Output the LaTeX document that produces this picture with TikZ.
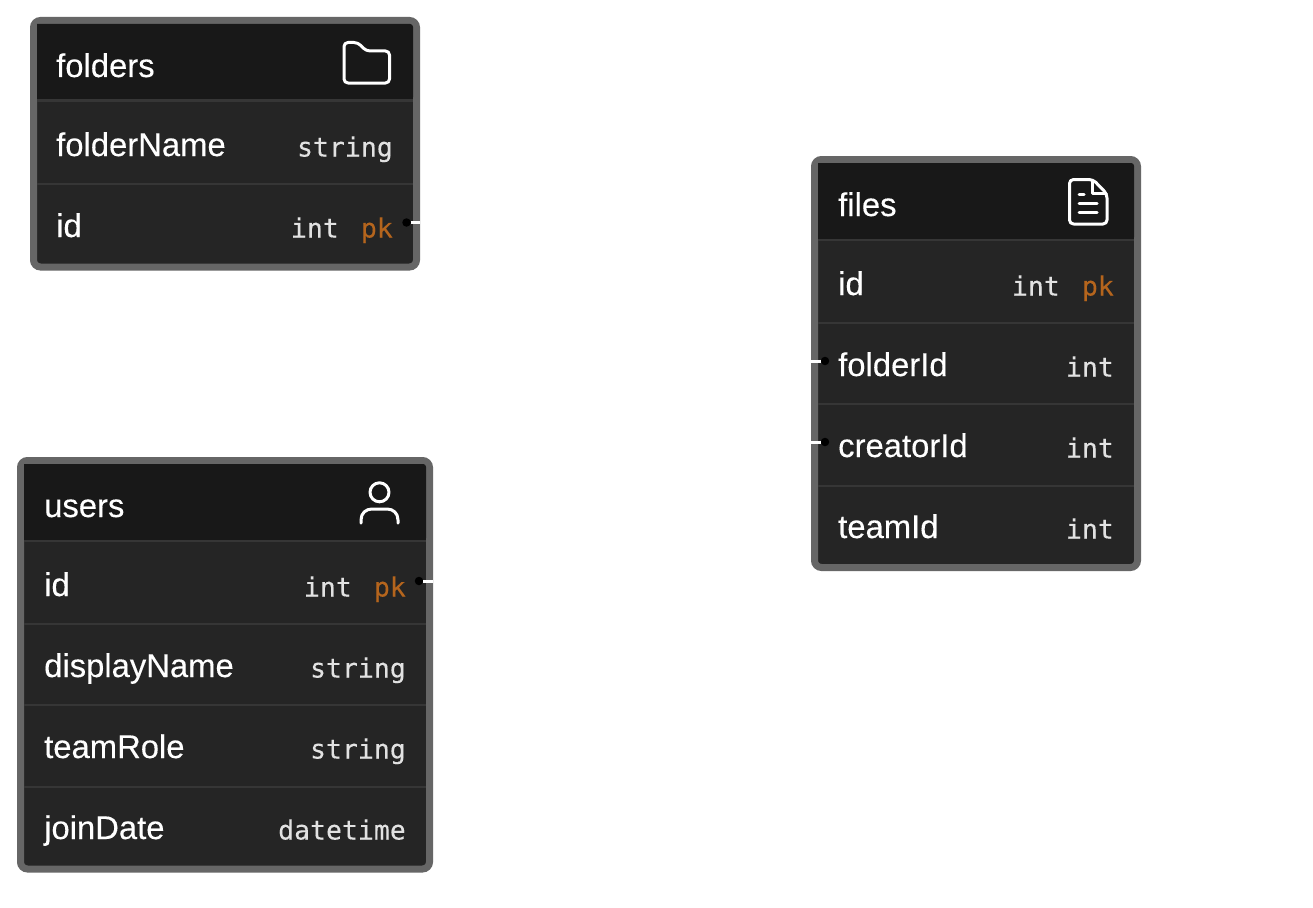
\documentclass[tikz,border=0pt]{standalone}
\usepackage{fontspec}
\setmainfont[FakeBold=0.25]{Liberation Sans}
\newfontfamily\monof[FakeBold=0.12]{DejaVu Sans Mono}
\definecolor{rowbg}{HTML}{252525}
\definecolor{headbg}{HTML}{181818}
\definecolor{rim}{HTML}{666666}
\definecolor{rule}{HTML}{363636}
\definecolor{typec}{HTML}{E2E2E2}
\definecolor{pkc}{HTML}{B5651D}
\tikzset{
  tablebox/.style={draw=rim,line width=7pt,fill=rowbg,rounded corners=7pt},
  headfill/.style={fill=headbg,rounded corners=3pt},
  rowrule/.style={draw=rule,line width=2.4pt},
  fieldname/.style={anchor=base west,inner sep=0pt,text=white,font=\fontsize{32.8}{36}\selectfont},
  fieldtype/.style={anchor=base east,inner sep=0pt,text=typec,font=\monof\fontsize{26.5}{30}\selectfont},
  pkmark/.style={anchor=base east,inner sep=0pt,text=pkc,font=\monof\fontsize{26.5}{30}\selectfont},
  icon/.style={draw=white,line width=3pt,line cap=round,line join=round},
  portdot/.style={circle,fill=black,inner sep=0pt,minimum size=8.5pt},
  stub/.style={draw=white,line width=3pt},
}
\begin{document}
\begin{tikzpicture}[x=1pt,y=-1pt]
\useasboundingbox (0,0) rectangle (1313,907);
\fill[white] (0,0) rectangle (1313,907);

% folders
\draw[tablebox] (33.5,20.5) rectangle (416.5,267);
\path[headfill] (37,24) -- (413,24) -- (413,100) [sharp corners] -- (37,100) -- cycle;
\fill[headbg] (37,40) rectangle (413,100);
\draw[rowrule] (37,100.5) -- (413,100.5);
\draw[rowrule] (37,184) -- (413,184);
\node[fieldname] (folderstitle) at (56,77) {folders};
\node[fieldname] (foldersname) at (56,156) {folderName};
\node[fieldname] (foldersid) at (56,237) {id};
\node[fieldtype] (foldersnamet) at (393,156.5) {string};
\node[pkmark] (folderspk) at (393,237.5) {pk};
\node[fieldtype] (foldersidt) at (339,237.5) {int};
\draw[icon,rounded corners=4pt] (344,42.5) -- (358,42.5) -- (366,51) -- (389.5,51) -- (389.5,83) -- (344,83) -- cycle;
\node[portdot] (foldersport) at (406.5,222.5) {};
\coordinate (foldersedge) at (420,222.5);
\draw[stub] (foldersport.east) -- (foldersedge);

% files
\draw[tablebox] (814.5,159.5) rectangle (1137.5,567.5);
\path[headfill] (818,163) -- (1134,163) -- (1134,240) [sharp corners] -- (818,240) -- cycle;
\fill[headbg] (818,180) rectangle (1134,240);
\draw[rowrule] (818,240) -- (1134,240);
\draw[rowrule] (818,323) -- (1134,323);
\draw[rowrule] (818,404) -- (1134,404);
\draw[rowrule] (818,486) -- (1134,486);
\node[fieldname] (filestitle) at (838,216) {files};
\node[fieldname] (filesid) at (838,295) {id};
\node[fieldname] (filesfolder) at (838,376) {folderId};
\node[fieldname] (filescreator) at (838,457) {creatorId};
\node[fieldname] (filesteam) at (838,538) {teamId};
\node[pkmark] (filespk) at (1114,295.5) {pk};
\node[fieldtype] (filesidt) at (1060,295.5) {int};
\node[fieldtype] (filesfoldert) at (1114,376.5) {int};
\node[fieldtype] (filescreatort) at (1114,457.5) {int};
\node[fieldtype] (filesteamt) at (1114,538.5) {int};
\draw[icon,rounded corners=4pt] (1069.5,179.5) -- (1093,179.5) -- (1107,194) -- (1107,224) -- (1069.5,224) -- cycle;
\draw[icon] (1092,180.5) -- (1092,193.5) -- (1106,193.5);
\draw[icon] (1079,194) -- (1084,194);
\draw[icon] (1079,203) -- (1097,203);
\draw[icon] (1079,212) -- (1097,212);
\node[portdot] (filesfolderport) at (825,361) {};
\coordinate (filesfolderedge) at (811,361);
\draw[stub] (filesfolderedge) -- (filesfolderport.west);
\node[portdot] (filescreatorport) at (825,442) {};
\coordinate (filescreatoredge) at (811,442);
\draw[stub] (filescreatoredge) -- (filescreatorport.west);

% users
\draw[tablebox] (20.5,460.5) rectangle (429.5,869);
\path[headfill] (24,464) -- (426,464) -- (426,541) [sharp corners] -- (24,541) -- cycle;
\fill[headbg] (24,480) rectangle (426,541);
\draw[rowrule] (24,541) -- (426,541);
\draw[rowrule] (24,624) -- (426,624);
\draw[rowrule] (24,705) -- (426,705);
\draw[rowrule] (24,787) -- (426,787);
\node[fieldname] (userstitle) at (44,517) {users};
\node[fieldname] (usersid) at (44,596) {id};
\node[fieldname] (usersdisplay) at (44,677) {displayName};
\node[fieldname] (usersrole) at (44,758) {teamRole};
\node[fieldname] (usersjoin) at (44,839) {joinDate};
\node[pkmark] (userspk) at (406,596.5) {pk};
\node[fieldtype] (usersidt) at (352,596.5) {int};
\node[fieldtype] (usersdisplayt) at (406,677.5) {string};
\node[fieldtype] (usersrolet) at (406,758.5) {string};
\node[fieldtype] (usersjoint) at (406,839.5) {datetime};
\draw[icon] (379.5,492.3) circle (9.5);
\draw[icon] (361,523) -- (361,520) .. controls (361,513) and (366,509) .. (372,509) -- (387,509) .. controls (393,509) and (398,513) .. (398,520) -- (398,523);
\node[portdot] (usersport) at (419,581) {};
\coordinate (usersedge) at (433,581);
\draw[stub] (usersport.east) -- (usersedge);
\end{tikzpicture}
\end{document}
